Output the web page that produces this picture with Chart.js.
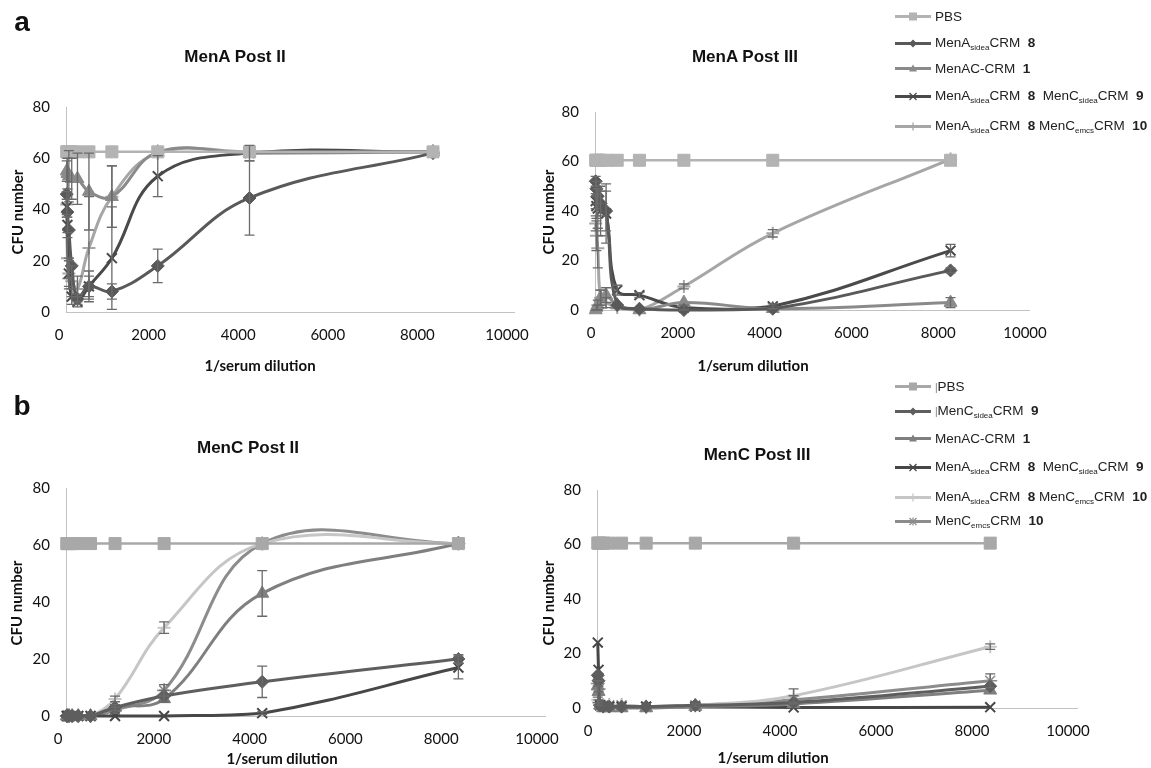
<!DOCTYPE html>
<html><head><meta charset="utf-8">
<script src="https://cdn.jsdelivr.net/npm/chart.js@4.4.1/dist/chart.umd.min.js"></script>
<style>
body{margin:0;background:#fff;width:1151px;height:768px;overflow:hidden;position:relative;font-family:Arial,"Liberation Sans",sans-serif;color:#111;}
canvas{position:absolute;left:0;top:0;}
.t{position:absolute;white-space:nowrap;transform:translate(-50%,-50%);}
.ptitle{font-weight:bold;font-size:17px;}
.letter{font-weight:bold;font-size:28px;}
.xt{font-family:Lato,sans-serif;font-weight:bold;font-size:15px;}
.yt{font-family:Lato,sans-serif;font-weight:bold;font-size:15px;transform:translate(-50%,-50%) rotate(-90deg);}
.lg{position:absolute;left:895px;display:flex;align-items:center;white-space:nowrap;font-size:13.5px;color:#222;transform:translateY(-50%);}
.lg svg{margin-right:4px;flex:none;}
.lg sub{font-size:8px;vertical-align:-3px;}
.lg b{font-size:13.5px;}
</style></head><body>
<canvas id="cAL" width="1151" height="768"></canvas>
<canvas id="cAR" width="1151" height="768"></canvas>
<canvas id="cBL" width="1151" height="768"></canvas>
<canvas id="cBR" width="1151" height="768"></canvas>

<div class="t letter" style="left:22px;top:22px;">a</div>
<div class="t letter" style="left:22px;top:406px;">b</div>
<div class="t ptitle" style="left:235px;top:57px;">MenA Post II</div>
<div class="t ptitle" style="left:745px;top:57px;">MenA Post III</div>
<div class="t ptitle" style="left:248px;top:448px;">MenC Post II</div>
<div class="t ptitle" style="left:757px;top:455px;">MenC Post III</div>

<div class="t xt" style="left:260px;top:365px;">1/serum dilution</div>
<div class="t xt" style="left:753px;top:365px;">1/serum dilution</div>
<div class="t xt" style="left:282px;top:758px;">1/serum dilution</div>
<div class="t xt" style="left:773px;top:757px;">1/serum dilution</div>
<div class="t yt" style="left:17px;top:212px;">CFU number</div>
<div class="t yt" style="left:548px;top:212px;">CFU number</div>
<div class="t yt" style="left:16px;top:603px;">CFU number</div>
<div class="t yt" style="left:548px;top:603px;">CFU number</div>

<div id="legends"></div>

<script>
// ---------- shared axis values ----------
const dilution = [16, 32, 64, 128, 256, 512, 1024, 2048, 4096, 8192];
const xTicks = [0, 2000, 4000, 6000, 8000, 10000];
const yTicks = [0, 20, 40, 60, 80];

// ---------- a: MenA Post II ----------
const aII_PBS      = [62.5, 62.5, 62.5, 62.5, 62.5, 62.5, 62.5, 62.5, 62.5, 62.5];
const aII_A8       = [46, 39, 32, 18, 5, 10, 8, 18, 44.5, 62];
const aII_AC1      = [55, 54, 53, 52, 52, 47, 45, 62.4, 62, 62.5];
const aII_A8C9     = [41, 34, 15, 6, 4, 10, 21, 53, 62, 62.5];
const aII_A8C10    = [42, 21, 15, 12, 9, 25, 45, 62, 62.5, 62.5];
const aII_A8_err   = [0, 0, 0, 0, 2, 4, 3, 6.5, 14.5, 0];
const aII_AC1_err  = [4, 6, 10, 8, 10, 15, 12, 0, 0, 0];
const aII_A8C9_err = [3, 3, 5, 3, 2, 6, 20, 8, 3, 0];
const aII_A8C10_err= [5, 8, 6, 6, 5, 20, 12, 0, 0, 0];

// ---------- a: MenA Post III ----------
const aIII_PBS      = [60.5, 60.5, 60.5, 60.5, 60.5, 60.5, 60.5, 60.5, 60.5, 60.5];
const aIII_A8       = [52, 49, 46, 43, 40, 2, 0.5, 0, 0.5, 16];
const aIII_AC1      = [0, 1, 2, 5, 6, 2, 0, 3, 0.5, 3];
const aIII_A8C9     = [44, 42, 41, 40, 39, 8, 6, 1, 1.5, 24];
const aIII_A8C10    = [35, 30, 25, 5, 3, 1, 0, 9.5, 31, 61];
const aIII_A8_err   = [2, 3, 3, 5, 8, 0, 0, 0, 0, 1];
const aIII_AC1_err  = [0, 1, 2, 3, 3, 0, 0, 0, 0, 2];
const aIII_A8C9_err = [3, 5, 8, 10, 12, 2, 1, 1, 1, 2.5];
const aIII_A8C10_err= [3, 6, 8, 3, 2, 0, 0, 1, 1.5, 0];

// ---------- b: MenC Post II ----------
const bII_PBS       = [60.5, 60.5, 60.5, 60.5, 60.5, 60.5, 60.5, 60.5, 60.5, 60.5];
const bII_C9        = [0, 0, 0, 0, 0, 0, 3, 7, 12, 20];
const bII_AC1       = [0, 0, 0, 0, 0, 0, 3, 6, 43, 60.5];
const bII_A8C9      = [0, 0, 0, 0, 0, 0, 0, 0, 1, 17];
const bII_A8C10     = [0, 0, 0, 0, 0, 0, 6, 31, 60.5, 60.5];
const bII_C10       = [0, 0, 0, 0, 0, 0, 2, 9, 60.5, 60.5];
const bII_C9_err    = [0, 0, 0, 0, 0, 0, 1, 2, 5.5, 1.5];
const bII_AC1_err   = [0, 0, 0, 0, 0, 0, 1, 1, 8, 0];
const bII_A8C9_err  = [0, 0, 0, 0, 0, 0, 0, 0, 0.5, 4];
const bII_A8C10_err = [0, 0, 0, 0, 0, 0, 1, 2, 0, 0];
const bII_C10_err   = [0, 0, 0, 0, 0, 0, 1, 2, 0, 0];

// ---------- b: MenC Post III ----------
const bIII_PBS       = [60.5, 60.5, 60.5, 60.5, 60.5, 60.5, 60.5, 60.5, 60.5, 60.5];
const bIII_C9        = [12, 10, 1, 0.5, 0.5, 0.5, 0.5, 1, 2, 8];
const bIII_AC1       = [8, 6, 1, 0, 0, 0, 0, 0.5, 1.5, 6.5];
const bIII_A8C9      = [24, 14, 1, 0.5, 0.5, 0.5, 0.5, 0.5, 0.2, 0.3];
const bIII_A8C10     = [3, 2, 1, 1, 1, 1, 0.5, 1, 4.5, 22.5];
const bIII_C10       = [9, 7, 1, 1, 1, 1, 0.5, 1, 3, 10];
const bIII_A8C10_err = [1, 1, 0, 0, 0, 0, 0, 0.5, 2.5, 1];
const bIII_C10_err   = [1, 1, 0, 0, 0, 0, 0, 0, 1.5, 2.5];

// ---------- styles ----------
const A = {PBS:'#b3b3b3', A8:'#595959', AC1:'#8a8a8a', A8C9:'#4a4a4a', A8C10:'#a6a6a6'};
const B = {PBS:'#a8a8a8', C9:'#5e5e5e', AC1:'#7f7f7f', A8C9:'#474747', A8C10:'#c6c6c6', C10:'#8c8c8c'};
const M = {
  sq:{style:'rect', r:8.5, bw:1},
  di:{style:'rectRot', r:6.5, bw:1},
  tr:{style:'triangle', r:7.5, bw:1},
  xx:{style:'crossRot', r:7, bw:2},
  pl:{style:'cross', r:6.5, bw:2},
  st:{style:'star', r:7, bw:1.6}
};

const errorBars = {
  id:'errbars',
  afterDatasetsDraw(chart){
    const {ctx, scales:{x, y}, chartArea} = chart;
    ctx.save();
    ctx.lineWidth = 1.3;
    chart.data.datasets.forEach(ds => {
      if (!ds.errors) return;
      ctx.strokeStyle = ds.errColor || '#666';
      ds.data.forEach((p, i) => {
        const e = ds.errors[i];
        if (!e) return;
        const px = x.getPixelForValue(p.x);
        const yt = y.getPixelForValue(p.y + e);
        const yb = Math.min(chartArea.bottom, y.getPixelForValue(p.y - e));
        ctx.beginPath();
        ctx.moveTo(px, yt); ctx.lineTo(px, yb);
        ctx.moveTo(px - 5, yt); ctx.lineTo(px + 5, yt);
        ctx.moveTo(px - 5, yb); ctx.lineTo(px + 5, yb);
        ctx.stroke();
      });
    });
    ctx.restore();
  }
};

function ds(values, color, mk, errors, lw){
  return {
    data: dilution.map((x, i) => ({x, y: values[i]})),
    showLine: true, tension: 0.4,
    borderColor: color, borderWidth: lw || 3,
    pointStyle: mk.style, pointRadius: mk.r, pointHoverRadius: mk.r,
    pointBackgroundColor: color, pointBorderColor: color, pointBorderWidth: mk.bw,
    errors: errors, errColor: '#6a6a6a', clip: 14
  };
}

function makeChart(id, area, datasets, labelOffset){
  const Wy = 50, Hx = 30;
  return new Chart(document.getElementById(id), {
    type: 'scatter',
    data: {datasets},
    options: {
      responsive: false, animation: false, devicePixelRatio: 1, events: [],
      layout: {padding: {left: area.left - Wy, top: area.top, right: 1151 - area.right, bottom: 768 - area.bottom - Hx}},
      plugins: {legend: {display: false}, tooltip: {enabled: false}, title: {display: false}},
      scales: {
        x: {
          type: 'linear', min: 0, max: 10000,
          afterFit(s){ s.height = Hx; },
          afterBuildTicks(s){ s.ticks = xTicks.map(v => ({value: v})); },
          grid: {display: false, drawTicks: false},
          border: {display: true, color: '#c2c2c2', width: 1},
          ticks: {font: {family: 'Lato', size: 15}, color: '#111', padding: 14, labelOffset: labelOffset, maxRotation: 0, autoSkip: false, callback: v => String(v)}
        },
        y: {
          type: 'linear', min: 0, max: 80,
          afterFit(s){ s.width = Wy; },
          afterBuildTicks(s){ s.ticks = yTicks.map(v => ({value: v})); },
          grid: {display: false, drawTicks: false},
          border: {display: true, color: '#c2c2c2', width: 1},
          ticks: {font: {family: 'Lato', size: 15}, color: '#111', padding: 16, callback: v => String(v)}
        }
      }
    },
    plugins: [errorBars]
  });
}

makeChart('cAL', {left:66, right:514, top:107, bottom:312}, [
  ds(aII_PBS, A.PBS, M.sq, null, 2.5),
  ds(aII_A8, A.A8, M.di, aII_A8_err),
  ds(aII_AC1, A.AC1, M.tr, aII_AC1_err),
  ds(aII_A8C9, A.A8C9, M.xx, aII_A8C9_err),
  ds(aII_A8C10, A.A8C10, M.pl, aII_A8C10_err)
], -7);

makeChart('cAR', {left:595, right:1029, top:112, bottom:310}, [
  ds(aIII_PBS, A.PBS, M.sq, null, 2.5),
  ds(aIII_A8, A.A8, M.di, aIII_A8_err),
  ds(aIII_AC1, A.AC1, M.tr, aIII_AC1_err),
  ds(aIII_A8C9, A.A8C9, M.xx, aIII_A8C9_err),
  ds(aIII_A8C10, A.A8C10, M.pl, aIII_A8C10_err)
], -4);

makeChart('cBL', {left:66, right:545, top:488, bottom:716}, [
  ds(bII_PBS, B.PBS, M.sq, null, 2.5),
  ds(bII_C9, B.C9, M.di, bII_C9_err),
  ds(bII_AC1, B.AC1, M.tr, bII_AC1_err),
  ds(bII_A8C9, B.A8C9, M.xx, bII_A8C9_err),
  ds(bII_A8C10, B.A8C10, M.pl, bII_A8C10_err),
  ds(bII_C10, B.C10, M.st, bII_C10_err)
], -8);

makeChart('cBR', {left:597, right:1077, top:490, bottom:708}, [
  ds(bIII_PBS, B.PBS, M.sq, null, 2.5),
  ds(bIII_C9, B.C9, M.di, null),
  ds(bIII_AC1, B.AC1, M.tr, null),
  ds(bIII_A8C9, B.A8C9, M.xx, null),
  ds(bIII_A8C10, B.A8C10, M.pl, bIII_A8C10_err),
  ds(bIII_C10, B.C10, M.st, bIII_C10_err)
], -9);

// ---------- legends (HTML, to allow subscripts) ----------
function marker(shape, c){
  const cx = 18, cy = 6;
  switch(shape){
    case 'sq': return `<rect x="${cx-4}" y="${cy-4}" width="8" height="8" fill="${c}"/>`;
    case 'di': return `<polygon points="${cx},${cy-4} ${cx+4},${cy} ${cx},${cy+4} ${cx-4},${cy}" fill="${c}"/>`;
    case 'tr': return `<polygon points="${cx},${cy-4} ${cx+4},${cy+3} ${cx-4},${cy+3}" fill="${c}"/>`;
    case 'xx': return `<path d="M${cx-3.5} ${cy-3.5}L${cx+3.5} ${cy+3.5}M${cx-3.5} ${cy+3.5}L${cx+3.5} ${cy-3.5}" stroke="${c}" stroke-width="1.3"/>`;
    case 'pl': return `<path d="M${cx} ${cy-4}V${cy+4}" stroke="${c}" stroke-width="1.3"/>`;
    case 'st': return `<path d="M${cx-3.5} ${cy-3.5}L${cx+3.5} ${cy+3.5}M${cx-3.5} ${cy+3.5}L${cx+3.5} ${cy-3.5}M${cx} ${cy-4}V${cy+4}" stroke="${c}" stroke-width="1.2"/>`;
  }
  return '';
}
const legendA = [
  {y:16,  c:A.PBS,   m:'sq', html:'PBS'},
  {y:43,  c:A.A8,    m:'di', html:'MenA<sub>sidea</sub>CRM&nbsp; <b>8</b>'},
  {y:68,  c:A.AC1,   m:'tr', html:'MenAC-CRM&nbsp; <b>1</b>'},
  {y:96,  c:A.A8C9,  m:'xx', html:'MenA<sub>sidea</sub>CRM&nbsp; <b>8</b>&nbsp; MenC<sub>sidea</sub>CRM&nbsp; <b>9</b>'},
  {y:126, c:A.A8C10, m:'pl', html:'MenA<sub>sidea</sub>CRM&nbsp; <b>8</b> MenC<sub>emcs</sub>CRM&nbsp; <b>10</b>'}
];
const legendB = [
  {y:386, c:B.PBS,   m:'sq', html:'<span style="font-size:10px;color:#777">|</span>PBS'},
  {y:411, c:B.C9,    m:'di', html:'<span style="font-size:10px;color:#777">|</span>MenC<sub>sidea</sub>CRM&nbsp; <b>9</b>'},
  {y:438, c:B.AC1,   m:'tr', html:'MenAC-CRM&nbsp; <b>1</b>'},
  {y:467, c:B.A8C9,  m:'xx', html:'MenA<sub>sidea</sub>CRM&nbsp; <b>8</b>&nbsp; MenC<sub>sidea</sub>CRM&nbsp; <b>9</b>'},
  {y:497, c:B.A8C10, m:'pl', html:'MenA<sub>sidea</sub>CRM&nbsp; <b>8</b> MenC<sub>emcs</sub>CRM&nbsp; <b>10</b>'},
  {y:521, c:B.C10,   m:'st', html:'MenC<sub>emcs</sub>CRM&nbsp; <b>10</b>'}
];
const L = document.getElementById('legends');
[...legendA, ...legendB].forEach(e => {
  const d = document.createElement('div');
  d.className = 'lg';
  d.style.top = e.y + 'px';
  d.innerHTML = `<svg width="36" height="12"><line x1="0" y1="6" x2="36" y2="6" stroke="${e.c}" stroke-width="3"/>${marker(e.m, e.c)}</svg><span>${e.html}</span>`;
  L.appendChild(d);
});
</script>
</body></html>
